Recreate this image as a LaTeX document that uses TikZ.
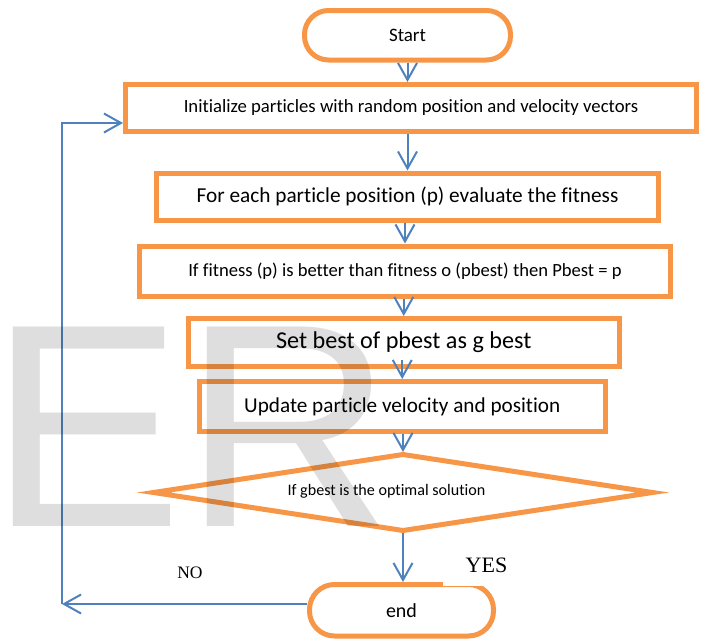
\documentclass[tikz,border=0pt]{standalone}
\usepackage{fontspec}
\setmainfont[Ligatures=NoCommon]{Carlito}
\newfontfamily\timesfont{Liberation Serif}
\newfontfamily\arialfont{Liberation Sans}
\usetikzlibrary{arrows.meta,calc}
\definecolor{flowOrange}{HTML}{F79646}
\definecolor{flowBlue}{HTML}{4F81BD}
\tikzset{
  box/.style={draw=flowOrange, line width=5pt, inner sep=0pt},
  terminal/.style={box, rounded corners=24pt},
  link/.style={draw=flowBlue, line width=2pt, -{Straight Barb[length=17pt,width=19pt]}},
  fs/.style={font=\fontsize{#1}{#1}\selectfont}
}
\begin{document}
\begin{tikzpicture}[x=1pt,y=-1pt]
\useasboundingbox (0,0) rectangle (704,640);

% process steps
\node[terminal, minimum width=206, minimum height=49.5, fs=19] (start) at (407.5,35.25) {Start};
\node[box, minimum width=571, minimum height=47, fs=18.7] (b1) at (411,108) {Initialize particles with random position and velocity vectors};
\node[box, minimum width=502, minimum height=47, fs=21.3] (b2) at (407.5,196.5) {For each particle position (p) evaluate the fitness};
\node[box, minimum width=531, minimum height=50.5, fs=18.6] (b3) at (405,271.25) {If fitness (p) is better than fitness o (pbest) then Pbest = p};
\node[box, minimum width=430.5, minimum height=48, fs=24.2] (b4) at (403.75,342.5) {Set best of pbest as g best};
\node[box, minimum width=405.5, minimum height=50, fs=21.2] (b5) at (402.25,406.5) {Update particle velocity and position};

% decision
\coordinate (dtop) at (403,454.5);
\coordinate (dright) at (652.5,492.5);
\coordinate (dbot) at (403,530.5);
\coordinate (dleft) at (153.5,492.5);
\draw[box] (dtop) -- (dright) -- (dbot) -- (dleft) -- cycle;
\node[fs=16.1, inner sep=0pt] (dectext) at (386.5,491) {If gbest is the optimal solution};

\node[terminal, minimum width=184, minimum height=51.5, rounded corners=25pt, fs=20] (end) at (401.5,610.25) {end};

% answer labels
\node[fill=white, minimum width=87, minimum height=41, inner sep=0pt, font=\timesfont\fontsize{22}{22}\selectfont] (yes) at (486.5,565.5) {YES};
\node[inner sep=0pt, font=\timesfont\fontsize{17.5}{17.5}\selectfont] (no) at (190,573) {NO};

% connectors
\coordinate (loopcorner) at (62,604);
\draw[link] (start.south) -- (start.south |- b1.north);
\draw[link] (b2.north |- b1.south) -- (b2.north);
\draw[link] (b3.north |- b2.south) -- (b3.north);
\draw[link] (b4.north |- b3.south) -- (b4.north);
\draw[link] ([yshift=9pt]b4.south -| b5.north) -- (b5.north);
\draw[link] (dtop |- b5.south) -- ([yshift=2.5pt]dtop);
\draw[link] ([yshift=-2.5pt]dbot) -- (dbot |- end.north);
\draw[link] (end.west |- loopcorner) -- (loopcorner);
\draw[link] (loopcorner) |- ($(b1.west)+(0,15)$);

% watermark
\node[anchor=base west, inner sep=0pt, text=black, text opacity=0.13,
      font=\arialfont\fontsize{290}{290}\selectfont] (wm) at (-10.6,526) {ER};
\end{tikzpicture}
\end{document}
